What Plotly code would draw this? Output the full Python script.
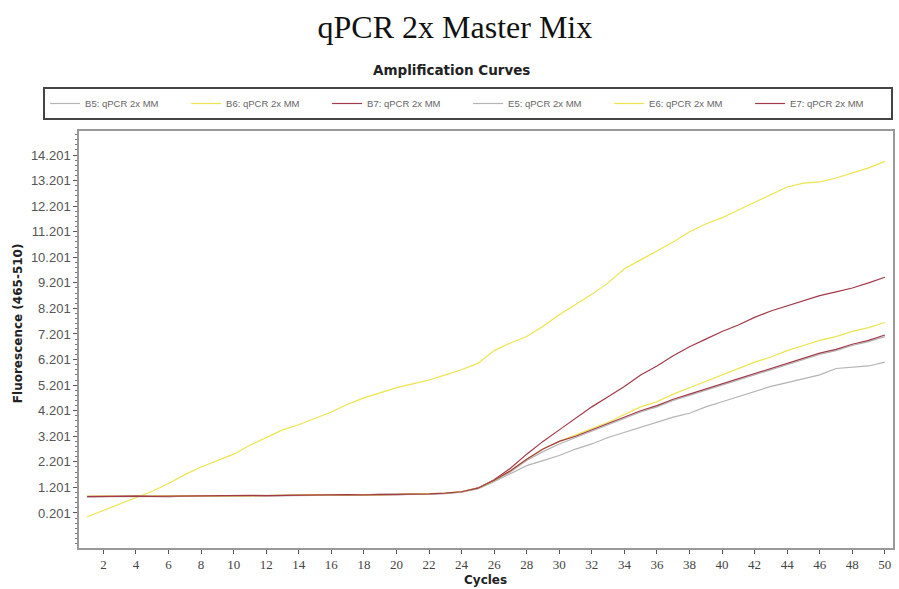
import plotly.graph_objects as go

cycles = list(range(1, 51))

b5_gray = [0.84, 0.85, 0.86, 0.85, 0.86, 0.85, 0.87, 0.86, 0.87, 0.88, 0.89, 0.88, 0.89, 0.90, 0.89,
           0.90, 0.91, 0.90, 0.92, 0.93, 0.93, 0.95, 0.97, 1.02, 1.16, 1.45,
           1.80, 2.25, 2.60, 2.90, 3.15, 3.40, 3.65, 3.90, 4.15, 4.35, 4.60, 4.80, 5.00, 5.20,
           5.40, 5.60, 5.80, 6.00, 6.20, 6.40, 6.55, 6.75, 6.90, 7.10]

b6_yellow = [0.05, 0.30, 0.55, 0.80, 1.05, 1.35, 1.70, 2.00, 2.25, 2.50, 2.85, 3.15, 3.45, 3.65, 3.90,
             4.15, 4.45, 4.70, 4.90, 5.10, 5.25, 5.40, 5.60, 5.80, 6.05, 6.55, 6.85, 7.10, 7.50, 7.95,
             8.35, 8.75, 9.20, 9.75, 10.10, 10.45, 10.80, 11.20, 11.50, 11.75, 12.05, 12.35, 12.65,
             12.95, 13.10, 13.15, 13.30, 13.50, 13.70, 13.95]

b7_red = [0.85, 0.84, 0.85, 0.86, 0.85, 0.84, 0.86, 0.87, 0.86, 0.88, 0.87, 0.88, 0.90, 0.89, 0.90,
          0.91, 0.90, 0.92, 0.93, 0.92, 0.94, 0.95, 0.97, 1.03, 1.18, 1.50,
          1.95, 2.50, 3.00, 3.45, 3.90, 4.35, 4.75, 5.15, 5.60, 5.95, 6.35, 6.70, 7.00, 7.30,
          7.55, 7.85, 8.10, 8.30, 8.50, 8.70, 8.85, 9.00, 9.20, 9.42]

e5_gray = [0.83, 0.84, 0.84, 0.85, 0.84, 0.85, 0.86, 0.85, 0.86, 0.87, 0.88, 0.87, 0.88, 0.89, 0.88,
           0.89, 0.90, 0.91, 0.90, 0.92, 0.93, 0.94, 0.96, 1.01, 1.14, 1.42,
           1.75, 2.05, 2.25, 2.45, 2.70, 2.90, 3.15, 3.35, 3.55, 3.75, 3.95, 4.10, 4.35, 4.55,
           4.75, 4.95, 5.15, 5.30, 5.45, 5.60, 5.85, 5.90, 5.95, 6.10]

e6_yellow = [0.86, 0.85, 0.86, 0.85, 0.86, 0.87, 0.86, 0.87, 0.88, 0.87, 0.88, 0.89, 0.88, 0.90, 0.91,
             0.90, 0.91, 0.92, 0.91, 0.93, 0.94, 0.96, 0.98, 1.04, 1.17, 1.47,
             1.85, 2.30, 2.70, 3.00, 3.25, 3.50, 3.75, 4.05, 4.35, 4.55, 4.85, 5.10, 5.35, 5.60,
             5.85, 6.10, 6.30, 6.55, 6.75, 6.95, 7.10, 7.30, 7.45, 7.65]

e7_red = [0.84, 0.85, 0.84, 0.86, 0.85, 0.86, 0.85, 0.87, 0.88, 0.87, 0.89, 0.88, 0.89, 0.90, 0.90,
          0.91, 0.92, 0.91, 0.92, 0.94, 0.93, 0.95, 0.98, 1.03, 1.17, 1.48,
          1.85, 2.30, 2.70, 3.00, 3.20, 3.45, 3.70, 3.95, 4.20, 4.40, 4.65, 4.85, 5.05, 5.25,
          5.45, 5.65, 5.85, 6.05, 6.25, 6.45, 6.60, 6.80, 6.95, 7.16]

series_names = ["B5: qPCR 2x MM", "B6: qPCR 2x MM", "B7: qPCR 2x MM",
                "E5: qPCR 2x MM", "E6: qPCR 2x MM", "E7: qPCR 2x MM"]
series_values = [b5_gray, b6_yellow, b7_red, e5_gray, e6_yellow, e7_red]
series_colors = ["#b4b4b4", "#ece44c", "#a23a48", "#b4b4b4", "#ece44c", "#a23a48"]

y_tick_vals = [0.201 + k for k in range(15)]
y_tick_text = [f"{v:.3f}" for v in y_tick_vals]
x_tick_vals = list(range(2, 51, 2))

W, H = 899, 589
L, R, T, B = 79, 4, 131, 41
PW, PH = W - L - R, H - T - B


def px(x):
    return (x - L) / PW


def py(y):
    return (H - B - y) / PH


fig = go.Figure()
for name, vals, col in zip(series_names, series_values, series_colors):
    fig.add_trace(go.Scatter(x=cycles, y=vals, mode="lines", name=name,
                             line=dict(color=col, width=1.2)))

fig.update_layout(
    width=W, height=H,
    paper_bgcolor="white", plot_bgcolor="white",
    margin=dict(l=L, r=R, t=T, b=B),
    title=dict(text="qPCR 2x Master Mix", x=0.506, xanchor="center", y=1 - 27 / H, yanchor="middle",
               font=dict(family="Liberation Serif", size=32, color="#111111")),
    showlegend=True,
    legend=dict(orientation="h", x=px(43), xanchor="left", y=py(87), yanchor="top",
                bordercolor="#444444", borderwidth=2, bgcolor="white",
                font=dict(family="Liberation Sans", size=9.5, color="#666666"),
                entrywidth=96, entrywidthmode="pixels", itemwidth=30,
                tracegroupgap=0),
    xaxis=dict(range=[0.5, 50.5], tickvals=x_tick_vals, ticks="outside", ticklen=4,
               tickcolor="#555555", showgrid=False, zeroline=False,
               showline=True, linecolor="#999999", linewidth=1.5, mirror=True,
               tickfont=dict(family="Liberation Sans Narrow", size=13, color="#444444")),
    yaxis=dict(range=[-1.17, 15.14], tickvals=y_tick_vals, ticktext=y_tick_text,
               ticks="outside", ticklen=4, tickcolor="#555555", showgrid=False, zeroline=False,
               showline=True, linecolor="#999999", linewidth=1.5, mirror=True,
               tickfont=dict(family="Liberation Sans", size=13, color="#555555"),
               minor=dict(tick0=0.201, dtick=0.2, ticks="outside", ticklen=2, tickcolor="#777777")),
    annotations=[
        dict(text="<b>Amplification Curves</b>", xref="paper", yref="paper",
             x=px(452), y=py(70), xanchor="center", yanchor="middle", showarrow=False,
             font=dict(family="DejaVu Sans", size=13.5, color="#222222")),
        dict(text="<b>Fluorescence (465-510)</b>", xref="paper", yref="paper",
             x=px(18), y=py(323), xanchor="center", yanchor="middle", showarrow=False,
             textangle=-90, font=dict(family="DejaVu Sans", size=12, color="#222222")),
        dict(text="<b>Cycles</b>", xref="paper", yref="paper",
             x=px(486), y=py(580), xanchor="center", yanchor="middle", showarrow=False,
             font=dict(family="DejaVu Sans", size=12, color="#222222")),
    ],
)

fig.write_html("out.html", config={"displayModeBar": False},
               post_script="document.body.style.margin='0';")
